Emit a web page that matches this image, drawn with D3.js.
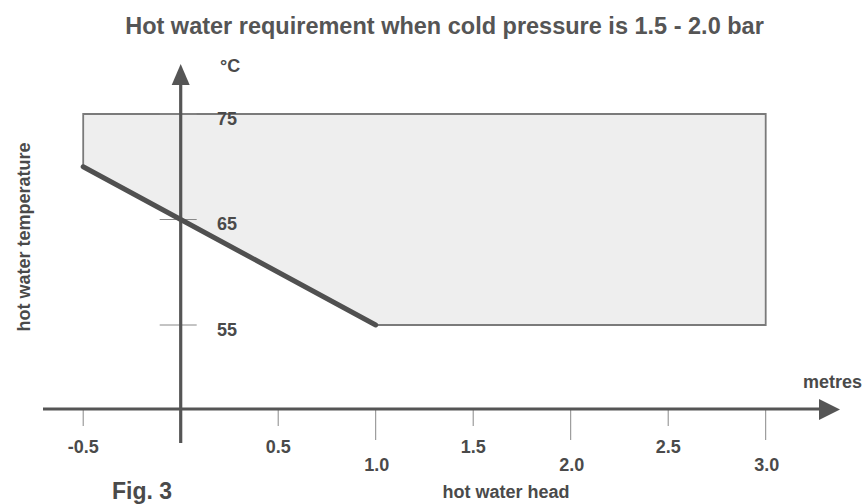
<!DOCTYPE html>
<html>
<head>
<meta charset="utf-8">
<script src="https://cdn.jsdelivr.net/npm/d3@7"></script>
<style>
  html, body { margin: 0; padding: 0; background: #fff; }
  svg { display: block; }
  text { font-family: "Liberation Sans", Arial, Helvetica, sans-serif; }
</style>
</head>
<body>
<svg id="chart" width="864" height="504"></svg>
<script>
// ---- data ----
const title = "Hot water requirement when cold pressure is 1.5 - 2.0 bar";
// permitted region (hot water head in metres, hot water temperature in °C)
const regionHead = [-0.5, 3.0, 3.0, 1.0, -0.5];
const regionTemp = [75, 75, 55, 55, 70];
// minimum temperature boundary line
const lineHead = [-0.5, 0.0, 1.0];
const lineTemp = [70, 65, 55];
// ticks
const xTicksUpper = [-0.5, 0.5, 1.5, 2.5];
const xTicksLower = [1.0, 2.0, 3.0];
const xTickLabelsUpper = ["-0.5", "0.5", "1.5", "2.5"];
const xTickLabelsLower = ["1.0", "2.0", "3.0"];
const yTicks = [55, 65, 75];

// ---- scales ----
const svg = d3.select("#chart");
const x = d3.scaleLinear().domain([0, 1]).range([180.7, 375.7]);
const y = d3.scaleLinear().domain([55, 75]).range([325, 114]);

const axisColor = "#555";
const textColor = "#4a4a4a";

// region
const region = regionHead.map((h, i) => [x(h), y(regionTemp[i])]);
svg.append("path")
  .attr("d", d3.line()(region) + "Z")
  .attr("fill", "#eeeeee")
  .attr("stroke", "#7a7a7a")
  .attr("stroke-width", 1.8);

// x ticks
svg.selectAll(".xt-up").data(xTicksUpper).join("line")
  .attr("x1", d => x(d)).attr("x2", d => x(d))
  .attr("y1", 409).attr("y2", 426)
  .attr("stroke", "#888").attr("stroke-width", 1);
svg.selectAll(".xt-lo").data(xTicksLower).join("line")
  .attr("x1", d => x(d)).attr("x2", d => x(d))
  .attr("y1", 409).attr("y2", 440)
  .attr("stroke", "#888").attr("stroke-width", 1);

// y ticks
svg.selectAll(".yt").data(yTicks).join("line")
  .attr("x1", x(0) - 21).attr("x2", x(0) + 16)
  .attr("y1", d => y(d)).attr("y2", d => y(d))
  .attr("stroke", "#888").attr("stroke-width", 1);

// x axis with arrow
svg.append("line")
  .attr("x1", 43).attr("x2", 822)
  .attr("y1", 409).attr("y2", 409)
  .attr("stroke", axisColor).attr("stroke-width", 3.2);
svg.append("path")
  .attr("d", "M819,399 L840,409.5 L819,420 Z")
  .attr("fill", axisColor);

// y axis with arrow
svg.append("line")
  .attr("x1", x(0)).attr("x2", x(0))
  .attr("y1", 443).attr("y2", 82)
  .attr("stroke", axisColor).attr("stroke-width", 3.2);
svg.append("path")
  .attr("d", `M${x(0) - 9},85 L${x(0)},64 L${x(0) + 9},85 Z`)
  .attr("fill", axisColor);

// boundary line
svg.append("path")
  .attr("d", d3.line()(lineHead.map((h, i) => [x(h), y(lineTemp[i])])))
  .attr("fill", "none")
  .attr("stroke", "#505050")
  .attr("stroke-width", 5)
  .attr("stroke-linecap", "round");

// tick labels
svg.selectAll(".xl-up").data(xTicksUpper).join("text")
  .attr("x", d => x(d)).attr("y", 452.5)
  .attr("text-anchor", "middle")
  .attr("font-size", 18).attr("font-weight", "bold")
  .attr("fill", textColor)
  .text((d, i) => xTickLabelsUpper[i]);
svg.selectAll(".xl-lo").data(xTicksLower).join("text")
  .attr("x", d => x(d) + 1).attr("y", 470.5)
  .attr("text-anchor", "middle")
  .attr("font-size", 18).attr("font-weight", "bold")
  .attr("fill", textColor)
  .text((d, i) => xTickLabelsLower[i]);
svg.selectAll(".yl").data(yTicks).join("text")
  .attr("x", 217).attr("y", d => y(d) + 10.5)
  .attr("font-size", 18).attr("font-weight", "bold")
  .attr("fill", textColor)
  .text(d => d);

// texts
svg.append("text")
  .attr("x", 444.5).attr("y", 34)
  .attr("text-anchor", "middle")
  .attr("font-size", 23.5).attr("font-weight", "bold")
  .attr("fill", "#555")
  .text(title);
svg.append("text")
  .attr("x", 220).attr("y", 72)
  .attr("font-size", 18).attr("font-weight", "bold")
  .attr("fill", textColor)
  .text("°C");
svg.append("text")
  .attr("x", 862).attr("y", 388)
  .attr("text-anchor", "end")
  .attr("font-size", 18).attr("font-weight", "bold")
  .attr("fill", textColor)
  .text("metres");
svg.append("text")
  .attr("x", 506).attr("y", 498)
  .attr("text-anchor", "middle")
  .attr("font-size", 18).attr("font-weight", "bold")
  .attr("fill", textColor)
  .text("hot water head");
svg.append("text")
  .attr("transform", "translate(30,237) rotate(-90)")
  .attr("text-anchor", "middle")
  .attr("font-size", 18).attr("font-weight", "bold")
  .attr("fill", textColor)
  .text("hot water temperature");
svg.append("text")
  .attr("x", 112).attr("y", 499)
  .attr("font-size", 23).attr("font-weight", "bold")
  .attr("fill", textColor)
  .text("Fig. 3");
</script>
</body>
</html>
